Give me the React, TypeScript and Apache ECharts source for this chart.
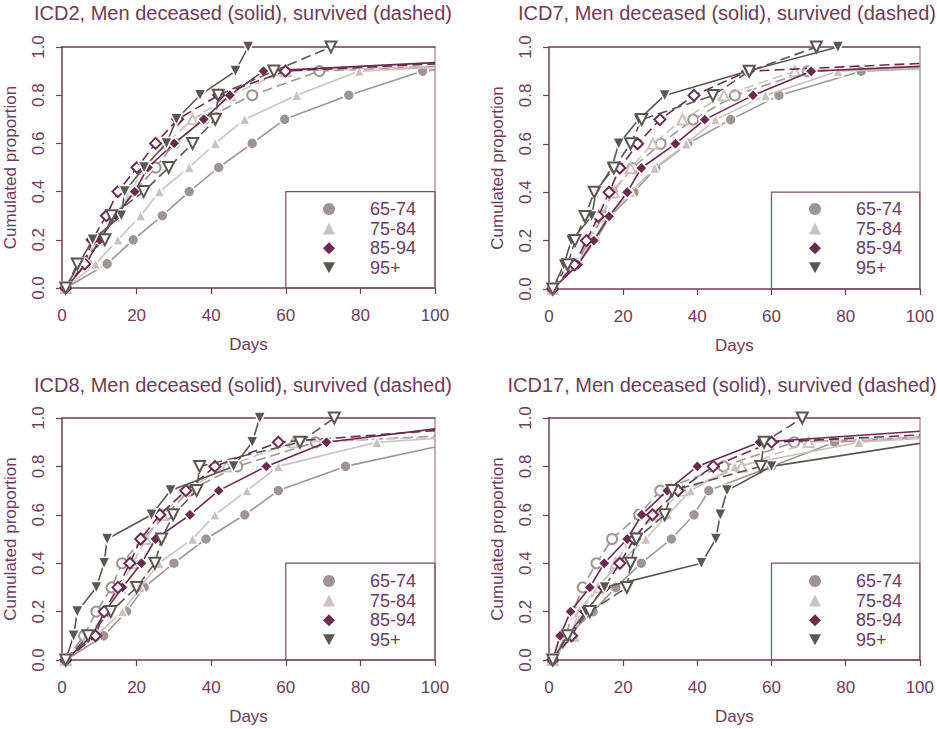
import React, { useEffect, useRef } from 'react';
import * as echarts from 'echarts';

const ageGroups = ['65-74', '75-84', '85-94', '95+'];
const panelTitles = [
  'ICD2, Men deceased (solid), survived (dashed)',
  'ICD7, Men deceased (solid), survived (dashed)',
  'ICD8, Men deceased (solid), survived (dashed)',
  'ICD17, Men deceased (solid), survived (dashed)',
];
const xAxisName = 'Days';
const yAxisName = 'Cumulated proportion';

// [days, cumulated proportion]
const icd2Dec6574 = [[1,0],[12.1,0.1],[19.1,0.2],[26.9,0.3],[34.1,0.4],[42,0.5],[51,0.6],[59.7,0.7],[76.9,0.8],[96.7,0.9],[100,0.905]];
const icd2Sur6574 = [[1,0],[6.5,0.1],[10.1,0.2],[13.8,0.3],[19.5,0.4],[25.1,0.5],[30.1,0.6],[38,0.7],[51,0.8],[69,0.9],[100,0.92]];
const icd2Dec7584 = [[1,0],[9,0.1],[15,0.2],[21.1,0.3],[26.1,0.4],[34.1,0.5],[41.1,0.6],[49,0.7],[62.9,0.8],[79.7,0.9],[100,0.915]];
const icd2Sur7584 = [[1,0],[5.5,0.1],[9.5,0.2],[14.5,0.3],[18.5,0.4],[21.9,0.5],[28,0.6],[35,0.7],[45,0.8],[60,0.9],[100,0.92]];
const icd2Dec8594 = [[1,0],[6.4,0.1],[10.1,0.2],[14.5,0.3],[19.5,0.4],[23,0.5],[30.1,0.6],[38,0.7],[45,0.8],[54,0.9],[100,0.935]];
const icd2Sur8594 = [[1,0],[6.1,0.1],[8.1,0.2],[11.9,0.3],[15,0.4],[20.1,0.5],[25.1,0.6],[31,0.7],[42,0.8],[59.9,0.9],[100,0.93]];
const icd2Dec95 = [[1,0],[4.5,0.1],[8.2,0.2],[15.9,0.3],[16.8,0.4],[22,0.5],[28,0.6],[30.7,0.7],[37,0.8],[46.5,0.9],[49.9,1]];
const icd2Sur95 = [[1,0],[4.1,0.1],[11.5,0.2],[13.3,0.3],[21.9,0.4],[28.6,0.5],[35,0.6],[41.1,0.7],[41.9,0.8],[56.8,0.9],[72.1,1]];

const icd7Dec6574 = [[1,0],[7.6,0.1],[12.5,0.2],[16.5,0.3],[22.9,0.4],[28.8,0.5],[37.4,0.6],[49,0.7],[62,0.8],[84.2,0.9],[100,0.91]];
const icd7Sur6574 = [[1,0],[7,0.1],[11,0.2],[14.5,0.3],[17,0.4],[22.5,0.5],[30.1,0.6],[38.9,0.7],[50.1,0.8],[69.8,0.9],[100,0.915]];
const icd7Dec7584 = [[1,0],[7.3,0.1],[11.8,0.2],[16,0.3],[22,0.4],[28.5,0.5],[37,0.6],[44.9,0.7],[58.4,0.8],[77.9,0.9],[100,0.912]];
const icd7Sur7584 = [[1,0],[6.5,0.1],[10.5,0.2],[14,0.3],[17.5,0.4],[22,0.5],[28,0.6],[36,0.7],[47.2,0.8],[66.3,0.9],[100,0.92]];
const icd7Dec8594 = [[1,0],[7.8,0.1],[12.1,0.2],[16.2,0.3],[21.1,0.4],[24.9,0.5],[34.1,0.6],[42,0.7],[55,0.8],[70.7,0.9],[100,0.92]];
const icd7Sur8594 = [[1,0],[6.9,0.1],[10.1,0.2],[13.3,0.3],[16.2,0.4],[19.1,0.5],[23.9,0.6],[29.9,0.7],[39.1,0.8],[53.6,0.9],[100,0.932]];
const icd7Dec95 = [[1,0],[4,0.1],[6,0.2],[11.5,0.3],[12.7,0.4],[16.9,0.5],[18.8,0.6],[24.2,0.7],[31.2,0.8],[53.5,0.9],[77.9,1]];
const icd7Sur95 = [[1,0],[5,0.1],[7,0.2],[9.7,0.3],[12.2,0.4],[17.5,0.5],[22,0.6],[25,0.7],[44.2,0.8],[54,0.9],[72.1,1]];

const icd8Dec6574 = [[1,0],[11.2,0.1],[17.3,0.2],[22,0.3],[30,0.4],[38.6,0.5],[49,0.6],[58,0.7],[76,0.8],[100,0.88]];
const icd8Sur6574 = [[1,0],[5.9,0.1],[9.2,0.2],[13.3,0.3],[16.1,0.4],[21.5,0.5],[28,0.6],[34,0.7],[47,0.8],[68,0.9],[100,0.925]];
const icd8Dec7584 = [[1,0],[9,0.1],[16.2,0.2],[21,0.3],[26,0.4],[35,0.5],[41,0.6],[49.6,0.7],[58,0.8],[84.4,0.9],[100,0.915]];
const icd8Sur7584 = [[1,0],[7,0.1],[12,0.2],[15.5,0.3],[19,0.4],[22.5,0.5],[27,0.6],[33,0.7],[44.1,0.8],[62,0.9],[100,0.92]];
const icd8Dec8594 = [[1,0],[8,0.1],[11.5,0.2],[16.2,0.3],[21.3,0.4],[25.1,0.5],[34.3,0.6],[42,0.7],[54.8,0.8],[70.9,0.9],[100,0.955]];
const icd8Sur8594 = [[1,0],[9,0.1],[11.3,0.2],[15,0.3],[18.2,0.4],[21.1,0.5],[26.2,0.6],[33.2,0.7],[41,0.8],[58,0.9],[100,0.948]];
const icd8Dec95 = [[1,0],[3.1,0.1],[4.1,0.2],[9.2,0.3],[11.3,0.4],[12.1,0.5],[24,0.6],[29.1,0.7],[46,0.8],[51,0.9],[53,1]];
const icd8Sur95 = [[1,0],[7,0.1],[13.1,0.2],[20,0.3],[24.9,0.4],[26.7,0.5],[29.8,0.6],[36.1,0.7],[36.9,0.8],[63.8,0.9],[73,1]];

const icd17Dec6574 = [[1,0],[5,0.1],[11.9,0.2],[18,0.3],[24.9,0.4],[33,0.5],[39.1,0.6],[43.1,0.7],[60,0.8],[77,0.9],[100,0.92]];
const icd17Sur6574 = [[1,0],[4.5,0.1],[6.5,0.2],[9.1,0.3],[12.8,0.4],[17,0.5],[24.3,0.6],[30,0.7],[47.1,0.8],[66.1,0.9],[100,0.92]];
const icd17Dec7584 = [[1,0],[6,0.1],[7.9,0.2],[13,0.3],[19,0.4],[26.1,0.5],[32,0.6],[38.2,0.7],[50.1,0.8],[83.6,0.9],[100,0.915]];
const icd17Sur7584 = [[1,0],[6.5,0.1],[8.5,0.2],[13.5,0.3],[18,0.4],[22,0.5],[29,0.6],[36,0.7],[52,0.8],[70,0.9],[100,0.92]];
const icd17Dec8594 = [[1,0],[3,0.1],[5.8,0.2],[11,0.3],[14.9,0.4],[21.1,0.5],[25,0.6],[31.9,0.7],[40,0.8],[56.8,0.9],[100,0.945]];
const icd17Sur8594 = [[1,0],[6.1,0.1],[9.9,0.2],[14.9,0.3],[19.1,0.4],[23,0.5],[27.9,0.6],[34.8,0.7],[44.3,0.8],[60,0.9],[100,0.93]];
const icd17Dec95 = [[1,0],[5,0.1],[10,0.2],[15,0.3],[41.1,0.4],[45,0.5],[46.2,0.6],[48,0.7],[60,0.8],[100,0.895]];
const icd17Sur95 = [[1,0],[5,0.1],[11,0.2],[21,0.3],[22,0.4],[23.6,0.5],[31.2,0.6],[33.2,0.7],[57.1,0.8],[58,0.9],[68.3,1]];

// per panel: [deceased, survived] for each age group
const panels = [
  [[icd2Dec6574, icd2Sur6574], [icd2Dec7584, icd2Sur7584], [icd2Dec8594, icd2Sur8594], [icd2Dec95, icd2Sur95]],
  [[icd7Dec6574, icd7Sur6574], [icd7Dec7584, icd7Sur7584], [icd7Dec8594, icd7Sur8594], [icd7Dec95, icd7Sur95]],
  [[icd8Dec6574, icd8Sur6574], [icd8Dec7584, icd8Sur7584], [icd8Dec8594, icd8Sur8594], [icd8Dec95, icd8Sur95]],
  [[icd17Dec6574, icd17Sur6574], [icd17Dec7584, icd17Sur7584], [icd17Dec8594, icd17Sur8594], [icd17Dec95, icd17Sur95]],
];

const TEXT = '#6e3b5d';
const AXIS = '#6e3b5d';
const RIGHT_LINE = '#b595a8';
const FONT = '"Liberation Sans", Arial, sans-serif';

const groupStyles = [
  { color: '#a09494', symbol: 'circle', rotate: 0, size: 11, legendIcon: 'circle' },
  { color: '#cbc1c1', symbol: 'triangle', rotate: 0, size: 11, legendIcon: 'triangle' },
  { color: '#6c2a4e', symbol: 'diamond', rotate: 0, size: 12, legendIcon: 'diamond' },
  { color: '#5b5652', symbol: 'triangle', rotate: 180, size: 12, legendIcon: 'path://M0,0L12,0L6,11Z' },
];

const grids = [
  { left: 62, top: 47, width: 373, height: 241 },
  { left: 549, top: 47, width: 371, height: 242 },
  { left: 62, top: 418, width: 373, height: 242 },
  { left: 549, top: 418, width: 371, height: 242 },
];
const titleCenters = [[243, 3], [727, 3], [243, 375], [722, 375]];
const legendPos = [[323, 200], [809, 200], [323, 572], [809, 572]];

function buildOption() {
  const xAxis: any[] = [];
  const yAxis: any[] = [];
  const series: any[] = [];
  const legend: any[] = [];
  const graphic: any[] = [];

  grids.forEach((g, gi) => {
    xAxis.push({
      type: 'value', gridIndex: gi, min: 0, max: 100, interval: 20, position: 'bottom',
      name: xAxisName, nameLocation: 'middle', nameGap: 48,
      nameTextStyle: { color: TEXT, fontSize: 17, fontFamily: FONT },
      axisLine: { show: true, onZero: false, lineStyle: { color: AXIS, width: 1.5 } },
      axisTick: { show: true, length: 6, lineStyle: { color: AXIS, width: 1.2 } },
      axisLabel: { color: TEXT, fontSize: 17, fontFamily: FONT, margin: 19 },
      splitLine: { show: false },
    });
    xAxis.push({
      type: 'value', gridIndex: gi, min: 0, max: 100, position: 'top',
      axisLine: { show: true, onZero: false, lineStyle: { color: AXIS, width: 1.5 } },
      axisTick: { show: false }, axisLabel: { show: false }, splitLine: { show: false },
    });
    yAxis.push({
      type: 'value', gridIndex: gi, min: 0, max: 1, interval: 0.2, position: 'left',
      name: yAxisName, nameLocation: 'middle', nameGap: 43,
      nameTextStyle: { color: TEXT, fontSize: 17, fontFamily: FONT },
      axisLine: { show: true, onZero: false, lineStyle: { color: AXIS, width: 1.5 } },
      axisTick: { show: true, length: 6, lineStyle: { color: AXIS, width: 1.2 } },
      axisLabel: { color: TEXT, fontSize: 17, fontFamily: FONT, rotate: 90, margin: 15,
        formatter: (v: number) => v.toFixed(1) },
      splitLine: { show: false },
    });
    yAxis.push({
      type: 'value', gridIndex: gi, min: 0, max: 1, position: 'right',
      axisLine: { show: true, onZero: false, lineStyle: { color: RIGHT_LINE, width: 1.5 } },
      axisTick: { show: false }, axisLabel: { show: false }, splitLine: { show: false },
    });

    panels[gi].forEach((pair, ag) => {
      const st = groupStyles[ag];
      pair.forEach((data, k) => {
        const survived = k === 1;
        const s: any = {
          type: 'line',
          name: survived ? ageGroups[ag] + ' survived' : ageGroups[ag],
          xAxisIndex: gi * 2, yAxisIndex: gi * 2,
          data: data.map((p) => (p[0] >= 100 ? { value: p, symbol: 'none' } : p)),
          symbol: st.symbol, symbolRotate: st.rotate,
          symbolSize: survived ? st.size - 1 : st.size,
          showAllSymbol: true,
          lineStyle: { color: st.color, width: 1.6, type: survived ? [10, 5] : 'solid' },
          itemStyle: survived
            ? { color: '#ffffff', borderColor: st.color, borderWidth: 2 }
            : { color: st.color, borderColor: '#ffffff', borderWidth: 1.5 },
          emphasis: { disabled: true },
          silent: true,
          z: 2 + ag,
        };
        if (ag === 0 && k === 0) {
          s.markArea = {
            silent: true,
            itemStyle: { color: 'rgba(0,0,0,0)', borderColor: '#7d4d6b', borderWidth: 1.2 },
            data: [[{ xAxis: 60, yAxis: 0 }, { xAxis: 100, yAxis: 0.4 }]],
          };
        }
        series.push(s);
      });
    });

    legend.push({
      orient: 'vertical', left: legendPos[gi][0], top: legendPos[gi][1], padding: 0,
      itemWidth: 12, itemHeight: 12, itemGap: 1.6, selectedMode: false,
      textStyle: { color: TEXT, fontSize: 18, fontFamily: FONT, lineHeight: 18, padding: [0, 0, 0, 30] },
      data: ageGroups.map((name, ag) => ({
        name, icon: groupStyles[ag].legendIcon,
        itemStyle: { color: groupStyles[ag].color, borderWidth: 0 },
      })),
    });

    graphic.push({
      type: 'text', x: titleCenters[gi][0], y: titleCenters[gi][1],
      style: { text: panelTitles[gi], fill: TEXT, fontSize: 20, fontFamily: FONT,
        textAlign: 'center', textVerticalAlign: 'top' },
    });
  });

  return {
    animation: false,
    backgroundColor: '#ffffff',
    grid: grids.map((g) => ({ ...g, containLabel: false })),
    xAxis, yAxis, series, legend, graphic,
  };
}

export default function App() {
  const ref = useRef<HTMLDivElement>(null);
  useEffect(() => {
    if (!ref.current) return;
    const chart = echarts.init(ref.current, undefined, { renderer: 'svg' });
    chart.setOption(buildOption() as any);
    return () => chart.dispose();
  }, []);
  return (
    <div ref={ref} style={{ position: 'fixed', left: 0, top: 0, width: 937, height: 729, background: '#fff' }} />
  );
}
